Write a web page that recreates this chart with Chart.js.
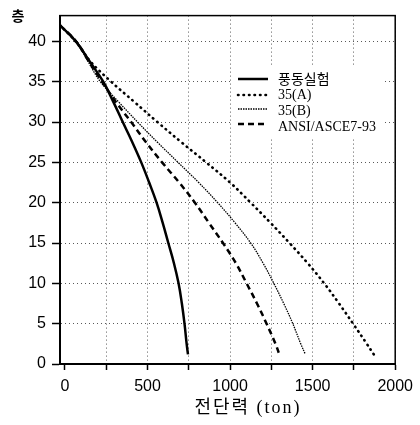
<!DOCTYPE html>
<html>
<head>
<meta charset="utf-8">
<script src="https://cdn.jsdelivr.net/npm/chart.js@4"></script>
<style>
  body { margin: 0; background: #fff; }
  canvas { display: block; }
</style>
</head>
<body>
<canvas id="chart" width="420" height="425"></canvas>
<script>
const floors = [42, 40, 37.5, 35, 32.5, 30, 27.5, 25, 22.5, 20, 17.5, 15, 12.5, 10, 7.5, 5, 2.5, 1.2];

// story shear (ton) for each floor above
const windTunnel = [-30, 66, 150, 232, 293, 350, 408, 462, 510, 555, 592, 626, 660, 688, 708, 724, 737, 745];
const code35A    = [-30, 65, 155, 280, 420, 560, 705, 855, 1000, 1125, 1245, 1360, 1470, 1570, 1660, 1745, 1828, 1870];
const code35B    = [-30, 68, 140, 215, 325, 440, 560, 685, 810, 925, 1030, 1125, 1200, 1265, 1325, 1380, 1428, 1456];
const ansiAsce   = [-30, 68, 145, 225, 308, 401, 491, 588, 692, 787, 872, 957, 1035, 1100, 1163, 1221, 1275, 1298];

const seriesNames = ['풍동실험', '35(A)', '35(B)', 'ANSI/ASCE7-93'];

const xTickValues = [0, 250, 500, 750, 1000, 1250, 1500, 1750, 2000];
const yTickValues = [0, 5, 10, 15, 20, 25, 30, 35, 40];

function toPoints(shear) {
    return shear.map((v, i) => ({ x: v, y: floors[i] }));
}

// frame, axis titles and the legend box inside the plot
const decorations = {
    id: 'decorations',
    afterDraw(chart) {
        const ctx = chart.ctx;
        const a = chart.chartArea;
        ctx.save();

        ctx.strokeStyle = '#000';
        ctx.lineWidth = 1.5;
        ctx.strokeRect(a.left, a.top, a.right - a.left, a.bottom - a.top);

        ctx.fillStyle = '#000';
        ctx.textAlign = 'center';
        ctx.textBaseline = 'middle';
        ctx.font = 'bold 14px "Noto Sans CJK KR"';
        ctx.fillText('층', 18, 16);

        ctx.font = '18px "Liberation Serif", "Noto Sans CJK KR"';
        ctx.letterSpacing = '2px';
        ctx.fillText('전단력 (ton)', 248, 408);
        ctx.letterSpacing = '0px';

        // legend
        ctx.fillStyle = '#fff';
        ctx.fillRect(233, 66, 150, 72);
        const lineRows = [79, 95, 109, 124];
        const textRows = [80, 95, 111, 127];
        ctx.font = '14px "Liberation Serif", "Noto Sans CJK KR"';
        ctx.textAlign = 'left';
        chart.data.datasets.forEach((ds, i) => {
            ctx.strokeStyle = '#000';
            ctx.lineWidth = ds.borderWidth;
            ctx.lineCap = ds.borderCapStyle || 'butt';
            ctx.setLineDash(ds.borderDash || []);
            ctx.beginPath();
            ctx.moveTo(238, lineRows[i]);
            ctx.lineTo(268, lineRows[i]);
            ctx.stroke();
            ctx.setLineDash([]);
            ctx.fillStyle = '#000';
            ctx.fillText(ds.label, 278, textRows[i]);
        });

        ctx.restore();
    }
};

const ctx = document.getElementById('chart').getContext('2d');
new Chart(ctx, {
    type: 'scatter',
    data: {
        datasets: [
            {
                label: seriesNames[0],
                data: toPoints(windTunnel),
                borderColor: '#000',
                borderWidth: 2.5
            },
            {
                label: seriesNames[1],
                data: toPoints(code35A),
                borderColor: '#000',
                borderWidth: 2.6,
                borderCapStyle: 'round',
                borderDash: [0.5, 5]
            },
            {
                label: seriesNames[2],
                data: toPoints(code35B),
                borderColor: '#000',
                borderWidth: 1.3,
                borderDash: [1.5, 1]
            },
            {
                label: seriesNames[3],
                data: toPoints(ansiAsce),
                borderColor: '#000',
                borderWidth: 2.5,
                borderDash: [6, 4]
            }
        ].map(ds => Object.assign(ds, {
            showLine: true,
            pointRadius: 0,
            pointHoverRadius: 0,
            fill: false,
            tension: 0.4
        }))
    },
    options: {
        responsive: false,
        animation: false,
        devicePixelRatio: 1,
        layout: { padding: { top: 10, right: 23, left: 0, bottom: 0 } },
        plugins: {
            legend: { display: false },
            tooltip: { enabled: false }
        },
        scales: {
            x: {
                type: 'linear',
                min: -30,
                max: 2000,
                afterBuildTicks: scale => { scale.ticks = xTickValues.map(v => ({ value: v })); },
                afterFit: scale => { scale.height = 61; },
                ticks: {
                    autoSkip: false,
                    maxRotation: 0,
                    padding: 7,
                    color: '#000',
                    font: { family: '"Liberation Sans"', size: 16 },
                    callback: v => (v % 500 === 0 ? v : '')
                },
                grid: {
                    color: ctx => (ctx.tick && ctx.tick.value === 0 ? 'rgba(0,0,0,0)' : 'rgba(0,0,0,0.65)'),
                    lineWidth: 1,
                    tickLength: 6,
                    tickColor: '#000',
                    tickWidth: 1.5
                },
                border: { color: '#000', width: 2, dash: [1, 3] }
            },
            y: {
                type: 'linear',
                min: 0,
                max: 43.2,
                afterBuildTicks: scale => { scale.ticks = yTickValues.map(v => ({ value: v })); },
                afterFit: scale => { scale.width = 60; },
                ticks: {
                    padding: 6,
                    color: '#000',
                    font: { family: '"Liberation Sans"', size: 16 }
                },
                grid: {
                    color: 'rgba(0,0,0,0.65)',
                    lineWidth: 1,
                    tickLength: 8,
                    tickColor: '#000',
                    tickWidth: 1.5
                },
                border: { color: '#000', width: 2, dash: [1, 3] }
            }
        }
    },
    plugins: [decorations]
});
</script>
</body>
</html>
